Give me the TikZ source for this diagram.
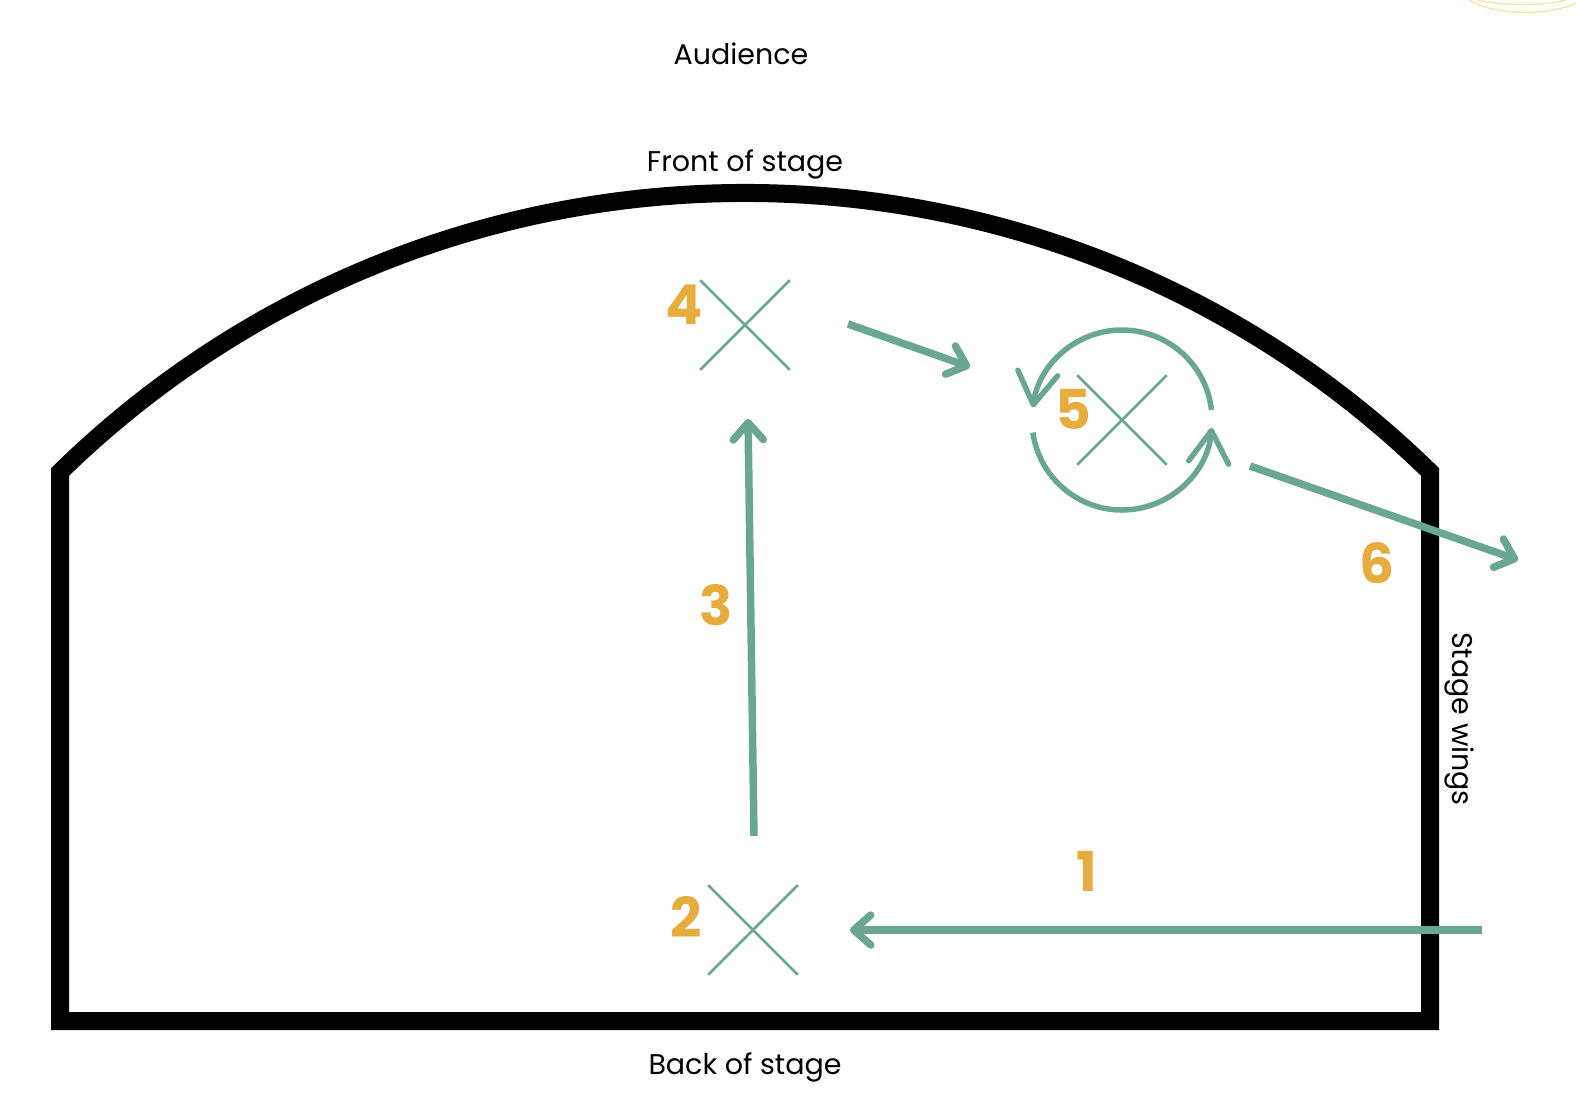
\documentclass[tikz,border=0pt]{standalone}
\usepackage{fontspec}
\setmainfont{Poppins}
\usetikzlibrary{arrows.meta,shapes.misc}
\definecolor{sage}{HTML}{6AA694}
\definecolor{ochre}{HTML}{E6AC3E}
\definecolor{faintyellow}{HTML}{F6E6A8}
\tikzset{
  stage/.style={line width=18pt, line join=miter, black},
  xmark/.style={cross out, draw=sage, line width=2.6pt, minimum size=87pt, inner sep=0pt},
  numlabel/.style={text=ochre, font=\fontsize{55}{60}\selectfont\bfseries, inner sep=0pt},
  plainlabel/.style={font=\fontsize{28.5}{34}\selectfont, inner sep=0pt},
  movearrow/.style={draw=sage, line width=7.5pt, -{Straight Barb[length=17pt, width=30pt, round]}},
  turnarrow/.style={draw=sage, line width=5.5pt, -{Straight Barb[length=32pt, width=40pt, round]}},
  faint/.style={draw=faintyellow, line width=1.5pt}
}
\begin{document}
\begin{tikzpicture}[x=1pt, y=-1pt]
\useasboundingbox (0,0) rectangle (1576,1112);
% faint decoration top right
\draw[faint] (1478,0) .. controls (1500,6) and (1545,6) .. (1566,0);
\draw[faint] (1469,0) .. controls (1495,16) and (1550,16) .. (1576,3);
% stage outline
\draw[stage] (60,1021) -- (60,472) arc[start angle=134.33, end angle=45.67, radius=980.4pt] -- (1430,1021) -- cycle;
% texts
\node[plainlabel] (aud) at (741,54) {Audience};
\node[plainlabel] (front) at (745,164) {Front of stage};
\node[plainlabel] (back) at (745,1067) {Back of stage};
\node[plainlabel, rotate=-90] (wings) at (1459,719) {Stage wings};
% marks
\node[xmark] (x4) at (745,325) {};
\node[xmark] (x2) at (753,930) {};
\node[xmark] (x5) at (1122,420) {};
% numbers
\node[numlabel] (n4) at (684,305) {4};
\node[numlabel] (n2) at (686,917) {2};
\node[numlabel] (n3) at (716,605) {3};
\node[numlabel] (n5) at (1073,409) {5};
\node[numlabel] (n6) at (1377,563) {6};
\node[numlabel] (n1) at (1087,871) {1};
% arrow endpoints
\coordinate (a1s) at (1482,930);
\coordinate (a1e) at (850,930);
\coordinate (a3s) at (754,836);
\coordinate (a3e) at (748,419);
\coordinate (a4s) at (848,324);
\coordinate (a4e) at (970,367);
\coordinate (a6s) at (1250,466);
\coordinate (a6e) at (1518,560);
\coordinate (c5) at (1122,420);
% arrows
\draw[movearrow] (a1s) -- (a1e);
\draw[movearrow] (a3s) -- (a3e);
\draw[movearrow] (a4s) -- (a4e);
\draw[movearrow] (a6s) -- (a6e);
% turning circle
\draw[turnarrow] ([shift={(6.4:90pt)}]c5) arc[start angle=6.4, end angle=172, radius=90pt];
\draw[turnarrow] ([shift={(188:90pt)}]c5) arc[start angle=188, end angle=355, radius=90pt];
\end{tikzpicture}
\end{document}
